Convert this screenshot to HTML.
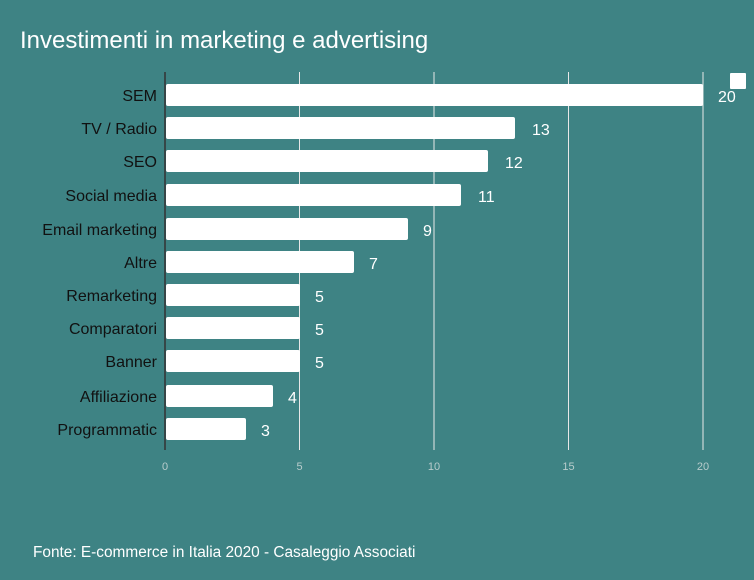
<!DOCTYPE html><html><head><style>
body{margin:0;background:#3e8384;width:754px;height:575px;overflow:hidden;font-family:"Liberation Sans",sans-serif}
</style></head><body>
<svg width="754" height="575" xmlns="http://www.w3.org/2000/svg" font-family="Liberation Sans, sans-serif">
<rect width="754" height="575" fill="#3e8384"/>
<text x="20" y="48" font-size="24" fill="#fff">Investimenti in marketing e advertising</text>
<g stroke="#e8e8e8" stroke-width="1">
<line x1="299.5" y1="72" x2="299.5" y2="450"/><line x1="434" y1="72" x2="434" y2="450"/><line x1="568.5" y1="72" x2="568.5" y2="450"/><line x1="703" y1="72" x2="703" y2="450"/>
</g>
<line x1="165" y1="72" x2="165" y2="450" stroke="#333" stroke-width="1.5"/>
<g fill="#b8cccc" font-size="11" text-anchor="middle">
<text x="165" y="470">0</text><text x="299.5" y="470">5</text><text x="434" y="470">10</text><text x="568.5" y="470">15</text><text x="703" y="470">20</text></g>
<rect x="730" y="73" width="16" height="16" fill="#fff" rx="1"/>
<g font-size="16">
<g fill="#111" text-anchor="end">
<text x="157" y="101">SEM</text><text x="157" y="134">TV / Radio</text><text x="157" y="167">SEO</text><text x="157" y="201">Social media</text><text x="157" y="235">Email marketing</text><text x="157" y="268">Altre</text><text x="157" y="301">Remarketing</text><text x="157" y="334">Comparatori</text><text x="157" y="367">Banner</text><text x="157" y="402">Affiliazione</text><text x="157" y="435">Programmatic</text>
</g>
<g fill="#fff">
<rect x="166" y="84" width="537" height="22" rx="2"/><rect x="166" y="117" width="349" height="22" rx="2"/><rect x="166" y="150" width="322" height="22" rx="2"/><rect x="166" y="184" width="295" height="22" rx="2"/><rect x="166" y="218" width="242" height="22" rx="2"/><rect x="166" y="251" width="188" height="22" rx="2"/><rect x="166" y="284" width="134" height="22" rx="2"/><rect x="166" y="317" width="134" height="22" rx="2"/><rect x="166" y="350" width="134" height="22" rx="2"/><rect x="166" y="385" width="107" height="22" rx="2"/><rect x="166" y="418" width="80" height="22" rx="2"/>
<text x="718" y="102">20</text><text x="532" y="135">13</text><text x="505" y="168">12</text><text x="478" y="202">11</text><text x="423" y="236">9</text><text x="369" y="269">7</text><text x="315" y="302">5</text><text x="315" y="335">5</text><text x="315" y="368">5</text><text x="288" y="403">4</text><text x="261" y="436">3</text>
</g></g>
<text x="33" y="557" font-size="15.4" fill="#fff">Fonte: E-commerce in Italia 2020 - Casaleggio Associati</text>
</svg></body></html>
